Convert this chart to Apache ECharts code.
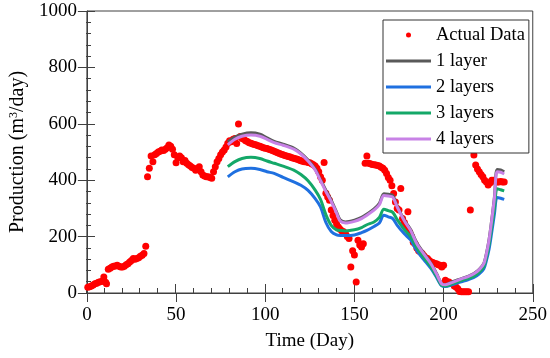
<!DOCTYPE html>
<html>
<head>
<meta charset="utf-8">
<script src="https://cdn.jsdelivr.net/npm/echarts@6/dist/echarts.min.js"></script>
<style>html,body{margin:0;padding:0;background:#fff}#c{width:550px;height:358px}</style>
</head>
<body>
<div id="c"></div>
<script>
// Actual data [day, production]
const actualData = [
[0.5,20],[1.5,22],[2.5,25],[3.5,28],[4.5,33],[5.5,35],[6.5,38],[7.5,40],[8.5,42],[9.5,57],[10.5,38],[11,33],
[12,84],[13,88],[14,92],[15,95],[16,96],[17,98],[18,95],[19,92],[20,92],[21,95],[22,100],[23,104],[24,110],
[25,115],[26,122],[27,120],[28,122],[29,125],[30,130],[31,134],[32,140],[33,166],
[34,412],[35,442],[36,486],[37,465],[38,490],[39,495],[40,500],[41,503],[42,507],[43,505],[44,510],[45,515],
[46,525],[47,520],[48,510],[49,490],[50,462],[51,480],[52,486],[53,480],[54,465],[55,470],[56,460],[57,455],
[58,450],[59,445],[60,442],[61,435],[62,440],[63,448],[64,430],[65,418],[66,415],[67,412],[68,412],[69,410],
[70,407],[71,430],[72,448],[73,465],[74,477],[75,490],[76,500],[77,507],[78,518],[79,531],[80,540],[81,536],
[82,545],[83,548],[84,530],[85,599],[86,555],[87,548],[88,545],[89,540],[90,537],[91,533],[92,531],[93,528],
[94,527],[95,525],[96,522],[97,520],[98,518],[99,515],[100,513],[101,512],[102,510],[103,508],[104,505],
[105,503],[106,500],[107,497],[108,495],[109,492],[110,490],[111,488],[112,486],[113,484],[114,482],[115,480],
[116,478],[117,476],[118,474],[119,472],[120,469],[121,467],[122,465],[123,465],[124,463],[125,462],[126,458],
[127,455],[128,450],[129,442],[130,430],[131,412],[132,400],[133,463],[134,354],[135,340],[136,329],[137,294],
[138,275],[139,258],[140,245],[141,234],[142,226],[143,220],[144,217],[145,210],[146,200],[147,193],[148,92],
[149,150],[150,135],[151,39],[152,187],[153,170],[154,163],[155,175],[156,460],[157,486],[158,460],[159,458],
[160,456],[161,455],[162,454],[163,452],[164,450],[165,446],[166,442],[167,435],[168,424],[169,410],[170,400],
[171,380],[172,353],[173,323],[174,300],[175,294],[176,371],[177,264],[178,250],[179,234],[180,288],[181,215],
[182,200],[183,180],[184,175],[185,160],[186,150],[187,145],[188,140],[189,132],[190,125],[191,122],[192,115],
[193,110],[194,108],[195,105],[196,104],[197,100],[198,98],[199,92],[200,98],[201,45],[202,40],[203,39],
[204,35],[205,33],[206,25],[207,21],[208,15],[209,5],[210,4],[211,4],[212,4],[213,4],[214,4],[215,294],
[217,489],[218,454],[219,440],[220,430],[221,420],[222,412],[223,400],[224,394],[225,383],[226,390],[227,400],
[228,400],[229,395],[230,394],[231,394],[232,395],[233,394],[234,394]
];
const modelDays = [79,83,87,92,97,101,105,110,116,120,124,128,131,134,137,140,142,145,150,154,157,161,164,166.5,169,171.5,174,178,181.5,185,189,193,196,199,201,205,210,214,217,220,222.5,224,225.5,227,228.5,230,232,234];
const layer1 = [536,553,563,568,563,550,538,528,514,496,472,440,402,365,329,287,260,252,258,268,280,298,318,352,350,346,308,258,225,178,140,104,70,33,30,40,51,60,69,84,104,140,190,260,340,438,436,430];
const layer2 = [412,430,440,442,438,430,424,410,394,382,364,335,305,250,218,206,204,204,206,214,222,236,248,276,270,264,240,210,188,150,118,86,56,25,23,30,40,48,55,68,85,115,155,215,280,339,336,332];
const layer3 = [448,466,477,481,477,468,460,450,436,420,398,365,332,278,240,224,222,220,224,232,242,252,268,297,292,286,260,225,200,160,125,92,60,27,25,33,44,52,60,74,93,125,170,235,300,370,366,362];
const layer4 = [525,545,556,560,556,545,533,524,510,493,468,436,398,360,325,283,255,248,254,264,276,294,313,346,344,340,305,256,222,175,138,103,68,32,29,38,50,59,68,83,103,138,188,258,336,430,428,422];
const seriesNames = ['Actual Data','1 layer','2 layers','3 layers','4 layers'];
const xTicks = {min:0,max:250,interval:50};
const yTicks = {min:0,max:1000,interval:200};

const font = 'Liberation Serif';
const axisColor = '#404040';
const gridBox = {left:86, top:11, right:17, bottom:65};
function pairs(xs, ys){ return xs.map((x,i)=>[x, ys[i]]); }
function line(name, ys, color){
  return {name, type:'line', xAxisIndex:0, yAxisIndex:0, data:pairs(modelDays, ys), showSymbol:false, symbol:'none',
    lineStyle:{color, width:3}, itemStyle:{color}, smooth:0.3, animation:false};
}
const lineIcon = 'path://M0,0M45,14M0,5.5h45v3h-45z';
const chart = echarts.init(document.getElementById('c'), null, {renderer:'canvas'});
chart.setOption({
  animation:false,
  backgroundColor:'#fff',
  grid:[
    Object.assign({show:true, borderColor:axisColor, borderWidth:1, backgroundColor:'transparent'}, gridBox),
    Object.assign({show:false}, gridBox)
  ],
  legend:{
    left:383, top:20, orient:'vertical', itemWidth:45, itemHeight:14, itemGap:7,
    padding:[5.5,4,4.5,3], borderColor:'#333', borderWidth:1, backgroundColor:'#fff',
    textStyle:{fontFamily:font, fontSize:18.5, color:'#000', lineHeight:17},
    data:[
      {name:'Actual Data', icon:'path://M0,0M45,14M20,7a2.5,2.5 0 1,0 5,0a2.5,2.5 0 1,0 -5,0z'},
      {name:'1 layer', icon:lineIcon},{name:'2 layers', icon:lineIcon},
      {name:'3 layers', icon:lineIcon},{name:'4 layers', icon:lineIcon}
    ]
  },
  xAxis:[{
    type:'value', gridIndex:0, min:xTicks.min, max:xTicks.max, interval:xTicks.interval,
    name:'Time (Day)', nameLocation:'middle', nameGap:39,
    nameTextStyle:{fontFamily:font, fontSize:19, color:'#000'},
    axisLine:{show:true, lineStyle:{color:axisColor, width:1}},
    axisTick:{show:true, inside:false, length:9, lineStyle:{color:axisColor}},
    axisLabel:{fontFamily:font, fontSize:19, color:'#000', margin:13, formatter:v=>String(v)},
    splitLine:{show:false}
  },{
    type:'value', gridIndex:1, min:xTicks.min, max:xTicks.max, interval:xTicks.interval, position:'bottom',
    axisLine:{show:false}, axisLabel:{show:false}, splitLine:{show:false},
    axisTick:{show:true, inside:true, length:9, lineStyle:{color:axisColor}},
    minorTick:{show:true, splitNumber:5, length:5, lineStyle:{color:axisColor}}
  }],
  yAxis:[{
    type:'value', gridIndex:0, min:yTicks.min, max:yTicks.max, interval:yTicks.interval,
    name:'Production (m{sup|3}/day)', nameLocation:'middle', nameGap:55,
    nameTextStyle:{fontFamily:font, fontSize:20, color:'#000',
      rich:{sup:{fontFamily:font, fontSize:12, color:'#000', verticalAlign:'top', lineHeight:20, padding:[0,0,7,0]}}},
    axisLine:{show:true, lineStyle:{color:axisColor, width:1}},
    axisTick:{show:true, inside:false, length:9, lineStyle:{color:axisColor}},
    axisLabel:{fontFamily:font, fontSize:19, color:'#000', margin:10, formatter:v=>String(v)},
    splitLine:{show:false}
  },{
    type:'value', gridIndex:1, min:yTicks.min, max:yTicks.max, interval:yTicks.interval, position:'left',
    axisLine:{show:false}, axisLabel:{show:false}, splitLine:{show:false},
    axisTick:{show:true, inside:true, length:9, lineStyle:{color:axisColor}},
    minorTick:{show:true, splitNumber:5, length:5, lineStyle:{color:axisColor}}
  }],
  series:[
    {name:'', type:'line', xAxisIndex:1, yAxisIndex:1, data:[], silent:true, showSymbol:false},
    {name:seriesNames[0], type:'scatter', xAxisIndex:0, yAxisIndex:0, data:actualData, symbol:'circle', symbolSize:7,
      itemStyle:{color:'#ff0000', opacity:1}, animation:false},
    line(seriesNames[1], layer1, '#595959'),
    line(seriesNames[2], layer2, '#1f70e0'),
    line(seriesNames[3], layer3, '#14a868'),
    line(seriesNames[4], layer4, '#c882e6')
  ]
});
</script>
</body>
</html>
